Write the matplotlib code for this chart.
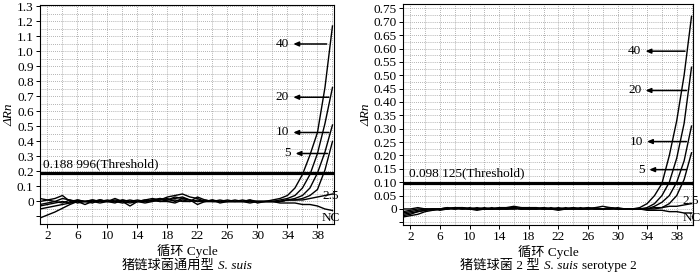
import numpy as np
import matplotlib.pyplot as plt
from matplotlib.offsetbox import TextArea, HPacker, AnnotationBbox

plt.rcParams['font.family'] = ['Liberation Serif', 'Noto Sans CJK SC']
plt.rcParams['font.size'] = 9

cycles = list(range(1, 41))

# left panel: S. suis general
left_40 = [-0.02, -0.01, 0.00, 0.02, 0.01, -0.01, 0.00, 0.01, 0.00, 0.01, 0.00, -0.01, 0.00, 0.01, 0.00, 0.01, 0.02, 0.01, 0.02, 0.03,
           0.01, 0.00, 0.01, 0.00, 0.00, 0.01, 0.00, 0.00, 0.01, 0.00, 0.00, 0.01, 0.02, 0.04, 0.09, 0.18, 0.31, 0.46, 0.76, 1.17]
left_20 = [0.02, 0.01, 0.02, 0.04, 0.00, 0.01, 0.00, -0.01, 0.01, 0.00, 0.02, 0.00, -0.01, 0.00, 0.01, 0.02, 0.01, 0.03, 0.04, 0.05,
           0.03, 0.02, 0.00, 0.01, 0.00, 0.00, 0.01, 0.00, -0.01, 0.00, 0.00, 0.00, 0.01, 0.02, 0.04, 0.09, 0.18, 0.32, 0.52, 0.76]
left_10 = [-0.03, -0.02, -0.01, 0.00, -0.01, 0.01, 0.00, 0.00, -0.01, 0.00, 0.01, 0.00, -0.03, 0.00, 0.01, 0.00, 0.02, 0.00, -0.01, 0.01,
           0.00, 0.03, 0.01, 0.00, 0.01, 0.00, 0.00, 0.01, 0.00, 0.00, 0.00, 0.00, 0.00, 0.01, 0.02, 0.04, 0.09, 0.19, 0.33, 0.51]
left_5 = [0.00, 0.01, 0.00, -0.01, 0.01, 0.00, -0.02, 0.00, 0.01, 0.00, -0.01, 0.01, 0.00, 0.00, -0.01, 0.00, 0.01, 0.02, 0.00, 0.02,
          0.01, -0.02, 0.00, 0.01, -0.01, 0.00, 0.00, 0.00, 0.01, -0.01, 0.00, 0.00, 0.00, 0.01, 0.01, 0.02, 0.04, 0.08, 0.21, 0.40]
left_25 = [-0.05, -0.04, -0.03, -0.02, -0.01, 0.00, 0.00, 0.01, 0.00, 0.00, 0.00, 0.00, 0.01, 0.00, 0.00, 0.01, 0.00, 0.01, 0.03, 0.02,
           0.01, 0.00, 0.00, 0.00, 0.00, 0.00, 0.00, 0.00, 0.00, 0.00, 0.00, 0.00, 0.00, 0.01, 0.01, 0.01, 0.02, 0.03, 0.04, 0.05]
left_nc = [-0.11, -0.09, -0.07, -0.045, -0.02, 0.00, 0.00, 0.00, 0.01, 0.00, 0.00, 0.01, 0.00, 0.00, 0.00, 0.01, 0.00, 0.00, 0.01, 0.00,
           0.00, 0.01, 0.00, 0.00, 0.00, 0.00, 0.00, 0.00, 0.00, 0.00, 0.00, 0.00, -0.01, -0.01, -0.01, -0.02, -0.02, -0.03, -0.05, -0.06]

# right panel: S. suis serotype 2
right_40 = [-0.01, -0.005, 0.0, 0.0, -0.005, 0.0, 0.005, 0.0, 0.005, 0.0, 0.0, 0.005, 0.0, 0.005, 0.005, 0.01, 0.005, 0.005, 0.0, 0.005,
            0.0, 0.005, 0.0, 0.0, 0.005, 0.0, 0.005, 0.01, 0.005, 0.0, 0.0, 0.0, 0.005, 0.02, 0.05, 0.095, 0.2, 0.33, 0.5, 0.72]
right_20 = [-0.02, -0.015, -0.01, -0.005, 0.0, 0.0, 0.0, 0.005, 0.005, 0.0, 0.005, 0.0, 0.0, 0.0, 0.005, 0.005, 0.0, 0.005, 0.005, 0.0,
            0.0, 0.0, 0.005, 0.0, 0.0, 0.005, 0.0, 0.0, 0.005, 0.0, 0.0, 0.0, 0.0, 0.005, 0.02, 0.05, 0.1, 0.19, 0.32, 0.53]
right_10 = [0.0, 0.0, 0.005, 0.0, 0.0, -0.005, 0.0, 0.005, 0.0, 0.0, -0.005, 0.0, 0.005, 0.0, 0.0, 0.005, 0.0, 0.0, 0.0, 0.005,
            0.0, -0.005, 0.0, 0.005, 0.0, 0.0, 0.005, 0.0, 0.0, 0.005, 0.0, 0.0, 0.0, 0.0, 0.01, 0.025, 0.05, 0.1, 0.18, 0.31]
right_5 = [-0.03, -0.025, -0.02, -0.01, -0.005, 0.0, 0.0, 0.0, 0.005, 0.0, 0.0, 0.0, 0.0, 0.005, 0.0, 0.0, 0.005, 0.0, 0.0, 0.0,
           0.005, 0.0, 0.0, 0.0, 0.0, 0.005, 0.0, 0.0, 0.0, 0.0, 0.0, 0.0, 0.0, 0.0, 0.0, 0.005, 0.02, 0.05, 0.11, 0.21]
right_25 = [-0.015, -0.01, -0.005, 0.0, 0.0, 0.0, 0.005, 0.0, 0.0, 0.005, 0.0, 0.0, 0.0, 0.0, 0.0, 0.005, 0.0, 0.0, 0.005, 0.0,
            0.0, 0.0, 0.0, 0.005, 0.0, 0.0, 0.0, 0.0, 0.005, 0.0, 0.0, 0.0, 0.0, 0.0, 0.005, 0.005, 0.01, 0.01, 0.015, 0.02]
right_nc = [-0.025, -0.02, -0.01, -0.005, 0.0, 0.0, 0.0, 0.005, 0.0, 0.0, 0.0, 0.0, 0.0, 0.0, 0.0, 0.0, 0.0, 0.0, 0.0, 0.0,
            0.0, 0.0, 0.0, 0.0, 0.0, 0.0, 0.0, 0.0, 0.0, 0.0, 0.0, 0.0, 0.0, -0.005, -0.005, -0.005, -0.01, -0.01, -0.015, -0.015]

left_threshold = 0.188996
right_threshold = 0.098125
left_thr_text = "0.188 996(Threshold)"
right_thr_text = "0.098 125(Threshold)"
# (text, style) pieces of the panel titles
left_title = [("猪链球菌通用型", "normal"), ("S. suis", "italic")]
right_title = [("猪链球菌 2 型", "normal"), ("S. suis", "italic"), ("serotype 2", "normal")]

# label, arrow y, arrow start x, arrow end x
left_marks = [("40", 1.05, 39.6, 34.4), ("20", 0.695, 39.9, 34.4), ("10", 0.46, 39.9, 34.4), ("5", 0.32, 39.7, 34.7)]
right_marks = [("40", 0.59, 39.5, 33.4), ("20", 0.443, 39.7, 33.4), ("10", 0.252, 39.7, 33.6), ("5", 0.147, 39.7, 33.9)]

fig = plt.figure(figsize=(7, 2.74), dpi=100)
ax1 = fig.add_axes([0.0571, 0.1825, 0.4200, 0.7993])
ax2 = fig.add_axes([0.5757, 0.1788, 0.4143, 0.8062])

def ygrid_vals(ymin, ymax, step):
    n0 = int(np.ceil(ymin / step - 1e-6))
    n1 = int(np.floor(ymax / step + 1e-6))
    return [k * step for k in range(n0, n1 + 1)]

def setup(ax, ymin, ymax, ylabels, yunl, ygrid):
    ax.set_xlim(1, 40.2)
    ax.set_ylim(ymin, ymax)
    ax.set_xticks(range(2, 41, 4))
    ax.set_xticks(range(2, 41, 2), minor=True)
    ax.set_yticks(list(ylabels) + [yunl])
    ax.set_yticklabels([("0" if v == 0 else ("%.2f" % v if ygrid < 0.05 else "%.1f" % v)) for v in ylabels] + [""])
    ax.set_yticks(ygrid_vals(ymin, ymax, ygrid), minor=True)
    ax.grid(True, which="both", color="#9a9a9a", linestyle=(0, (1, 1.5)), linewidth=0.6)
    ax.set_axisbelow(True)
    ax.tick_params(which="major", direction="out", length=3, width=0.7, pad=1.5, labelsize=9.5)
    ax.tick_params(which="minor", length=0)
    for s in ax.spines.values():
        s.set_linewidth(0.8)
    ax.set_xlabel("循环 Cycle", fontsize=9.5, labelpad=1)
    ax.set_ylabel("ΔRn", fontstyle="italic", fontsize=9.5, labelpad=1)

setup(ax1, -0.15, 1.31, [round(0.1 * k, 1) for k in range(0, 14)], -0.1, 0.05)
setup(ax2, -0.06, 0.766, [round(0.05 * k, 2) for k in range(0, 16)], -0.05, 0.025)

for ys in [left_40, left_20, left_10, left_5, left_25, left_nc]:
    ax1.plot(cycles, ys, color="black", lw=1.0)
for ys in [right_40, right_20, right_10, right_5, right_25, right_nc]:
    ax2.plot(cycles, ys, color="black", lw=1.0)

ax1.axhline(left_threshold, color="black", lw=2.3)
ax2.axhline(right_threshold, color="black", lw=2.3)
ax1.text(1.4, left_threshold + 0.022, left_thr_text, fontsize=9.5, va="bottom", ha="left")
ax2.text(1.8, right_threshold + 0.012, right_thr_text, fontsize=9.5, va="bottom", ha="left")

for ax, marks in [(ax1, left_marks), (ax2, right_marks)]:
    for lab, y, x0, x1 in marks:
        ax.annotate("", xy=(x1, y), xytext=(x0, y),
                    arrowprops=dict(arrowstyle="-|>,head_length=0.35,head_width=0.15", color="black", lw=1.1))
        ax.text(x1 - 0.2, y, lab, fontsize=9.5, ha="right", va="center")

ax1.text(39.7, 0.035, "2.5", fontsize=9.5, ha="center", va="center", clip_on=False)
ax1.text(39.8, -0.11, "NC", fontsize=9.5, ha="center", va="center", clip_on=False)
ax2.text(39.85, 0.028, "2.5", fontsize=9.5, ha="center", va="center", clip_on=False)
ax2.text(40.0, -0.033, "NC", fontsize=9.5, ha="center", va="center", clip_on=False)

def add_title(x, parts):
    boxes = [TextArea(t, textprops=dict(fontsize=9.5, fontstyle=st)) for t, st in parts]
    pack = HPacker(children=boxes, align="baseline", pad=0, sep=3)
    ab = AnnotationBbox(pack, (x, 0.029), xycoords="figure fraction", frameon=False,
                        box_alignment=(0.5, 0.5), pad=0)
    fig.add_artist(ab)

add_title(0.267, left_title)
add_title(0.783, right_title)

fig.savefig("out.png", dpi=100)
